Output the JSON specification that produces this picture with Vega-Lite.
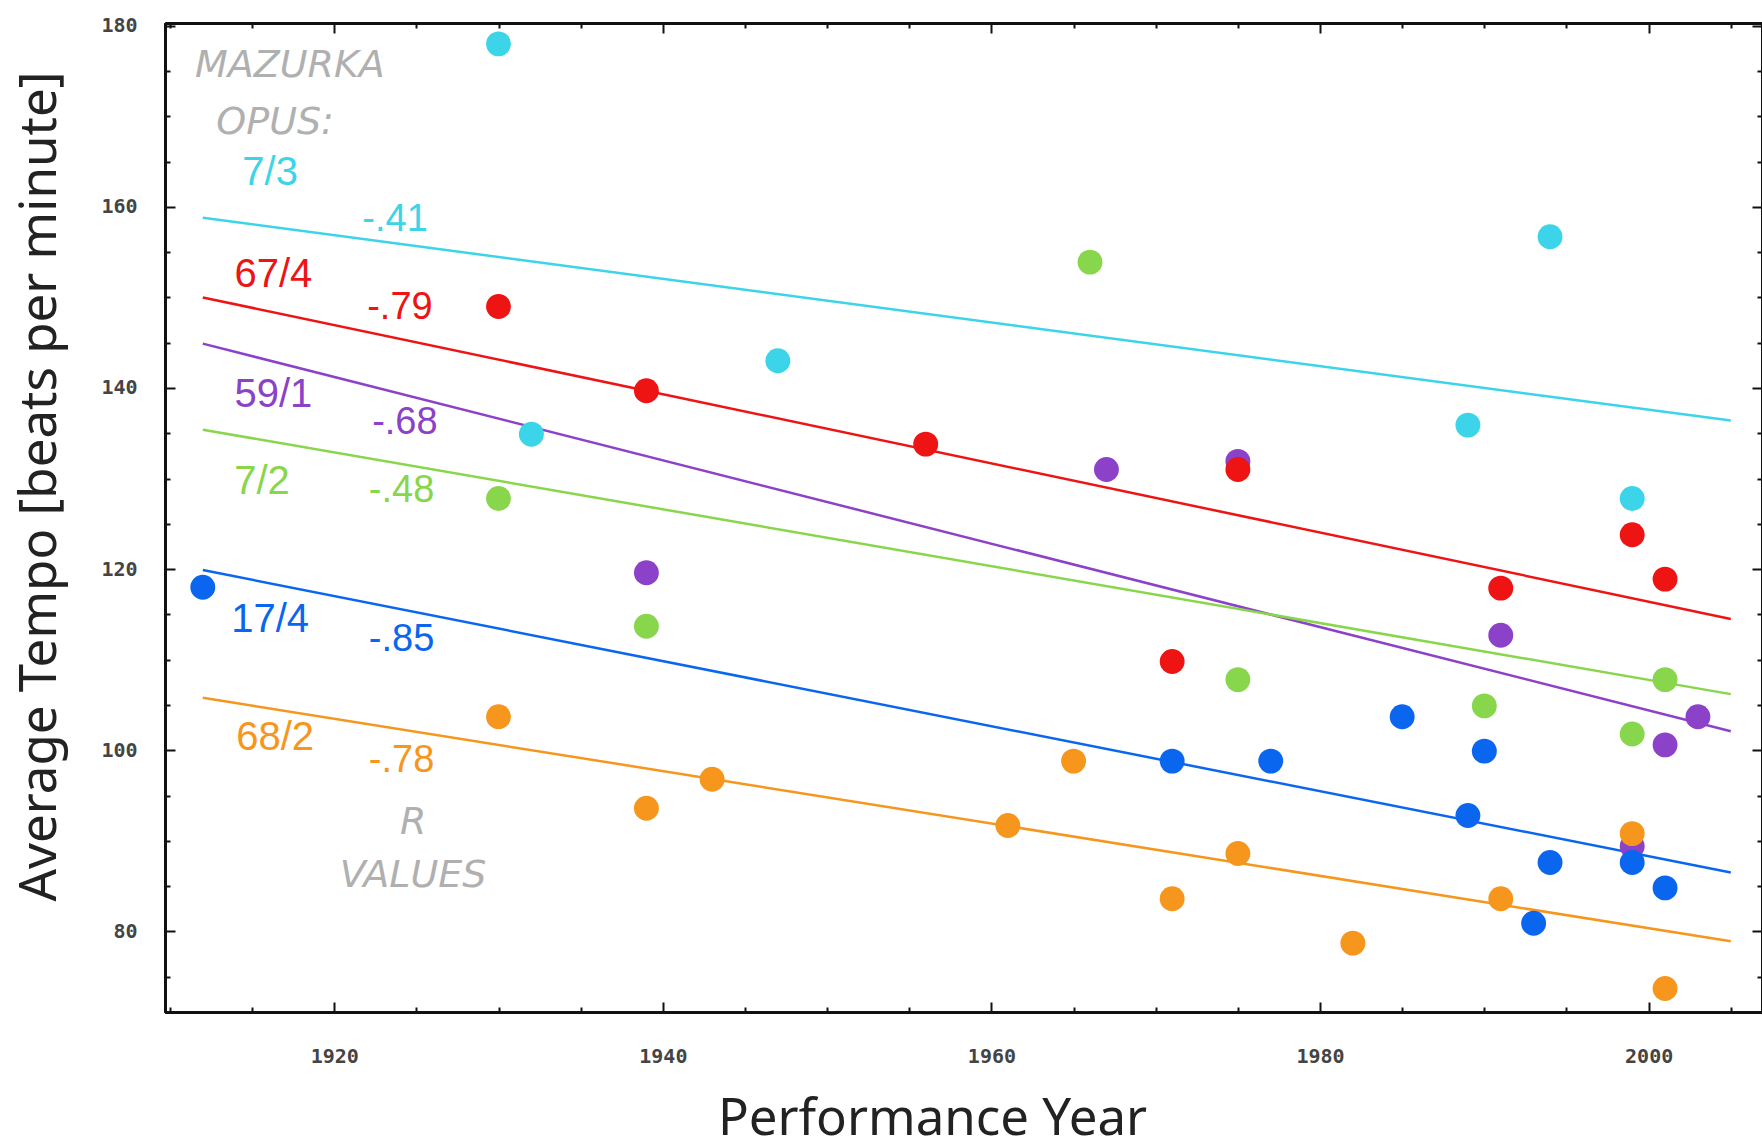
{
  "$schema": "https://vega.github.io/schema/vega-lite/v6.json",
  "width": 1597,
  "height": 989,
  "autosize": "none",
  "padding": {"left": 165, "top": 23, "right": 0, "bottom": 134},
  "background": "white",
  "config": {
    "view": {"stroke": null},
    "axis": {
      "grid": false,
      "domainColor": "#111111",
      "domainWidth": 3,
      "tickColor": "#111111",
      "tickWidth": 2,
      "labelFont": "DejaVu Sans Mono",
      "labelFontWeight": "bold",
      "labelFontSize": 20,
      "labelColor": "#444444",
      "titleFont": "Noto Sans",
      "titleFontWeight": "normal",
      "titleFontSize": 51,
      "titleColor": "#222222"
    }
  },
  "datasets": {
    "points": [
      {"opus": "59/1", "year": 1939, "tempo": 119.6},
      {"opus": "59/1", "year": 1967, "tempo": 131.0},
      {"opus": "59/1", "year": 1975, "tempo": 131.9},
      {"opus": "59/1", "year": 1991, "tempo": 112.7},
      {"opus": "59/1", "year": 1999, "tempo": 89.4},
      {"opus": "59/1", "year": 2001, "tempo": 100.6},
      {"opus": "59/1", "year": 2003, "tempo": 103.7},
      {"opus": "7/3", "year": 1930, "tempo": 178.0},
      {"opus": "7/3", "year": 1932, "tempo": 134.9},
      {"opus": "7/3", "year": 1947, "tempo": 143.0},
      {"opus": "7/3", "year": 1989, "tempo": 135.9},
      {"opus": "7/3", "year": 1994, "tempo": 156.7},
      {"opus": "7/3", "year": 1999, "tempo": 127.8},
      {"opus": "7/2", "year": 1930, "tempo": 127.8},
      {"opus": "7/2", "year": 1939, "tempo": 113.7},
      {"opus": "7/2", "year": 1966, "tempo": 153.9},
      {"opus": "7/2", "year": 1975, "tempo": 107.8},
      {"opus": "7/2", "year": 1990, "tempo": 104.9},
      {"opus": "7/2", "year": 1999, "tempo": 101.8},
      {"opus": "7/2", "year": 2001, "tempo": 107.8},
      {"opus": "17/4", "year": 1912, "tempo": 118.0},
      {"opus": "17/4", "year": 1971, "tempo": 98.8},
      {"opus": "17/4", "year": 1977, "tempo": 98.8},
      {"opus": "17/4", "year": 1985, "tempo": 103.7},
      {"opus": "17/4", "year": 1989, "tempo": 92.8},
      {"opus": "17/4", "year": 1990, "tempo": 99.9},
      {"opus": "17/4", "year": 1993, "tempo": 80.9},
      {"opus": "17/4", "year": 1994, "tempo": 87.6},
      {"opus": "17/4", "year": 1999, "tempo": 87.6},
      {"opus": "17/4", "year": 2001, "tempo": 84.8},
      {"opus": "67/4", "year": 1930, "tempo": 149.0},
      {"opus": "67/4", "year": 1939, "tempo": 139.7},
      {"opus": "67/4", "year": 1956, "tempo": 133.8},
      {"opus": "67/4", "year": 1971, "tempo": 109.8},
      {"opus": "67/4", "year": 1975, "tempo": 131.0},
      {"opus": "67/4", "year": 1991, "tempo": 117.9},
      {"opus": "67/4", "year": 1999, "tempo": 123.8},
      {"opus": "67/4", "year": 2001, "tempo": 118.9},
      {"opus": "68/2", "year": 1930, "tempo": 103.7},
      {"opus": "68/2", "year": 1939, "tempo": 93.6},
      {"opus": "68/2", "year": 1943, "tempo": 96.8},
      {"opus": "68/2", "year": 1961, "tempo": 91.7},
      {"opus": "68/2", "year": 1965, "tempo": 98.8},
      {"opus": "68/2", "year": 1971, "tempo": 83.6},
      {"opus": "68/2", "year": 1975, "tempo": 88.6},
      {"opus": "68/2", "year": 1982, "tempo": 78.7},
      {"opus": "68/2", "year": 1991, "tempo": 83.6},
      {"opus": "68/2", "year": 1999, "tempo": 90.8},
      {"opus": "68/2", "year": 2001, "tempo": 73.7}
    ],
    "fits": [
      {"opus": "7/3", "year": 1912, "tempo": 158.8},
      {"opus": "7/3", "year": 2005, "tempo": 136.4},
      {"opus": "67/4", "year": 1912, "tempo": 150.0},
      {"opus": "67/4", "year": 2005, "tempo": 114.5},
      {"opus": "59/1", "year": 1912, "tempo": 144.9},
      {"opus": "59/1", "year": 2005, "tempo": 102.1},
      {"opus": "7/2", "year": 1912, "tempo": 135.4},
      {"opus": "7/2", "year": 2005, "tempo": 106.2},
      {"opus": "17/4", "year": 1912, "tempo": 119.9},
      {"opus": "17/4", "year": 2005, "tempo": 86.5},
      {"opus": "68/2", "year": 1912, "tempo": 105.8},
      {"opus": "68/2", "year": 2005, "tempo": 78.9}
    ],
    "labels": [
      {"opus": "7/3", "year": 1916.1, "tempo": 163.7},
      {"opus": "67/4", "year": 1916.3, "tempo": 152.5},
      {"opus": "59/1", "year": 1916.3, "tempo": 139.2},
      {"opus": "7/2", "year": 1915.6, "tempo": 129.6},
      {"opus": "17/4", "year": 1916.1, "tempo": 114.4},
      {"opus": "68/2", "year": 1916.4, "tempo": 101.3}
    ],
    "rvalues": [
      {"opus": "7/3", "r": "-.41", "year": 1923.7, "tempo": 158.5},
      {"opus": "67/4", "r": "-.79", "year": 1924.0, "tempo": 148.8},
      {"opus": "59/1", "r": "-.68", "year": 1924.3, "tempo": 136.1},
      {"opus": "7/2", "r": "-.48", "year": 1924.1, "tempo": 128.6},
      {"opus": "17/4", "r": "-.85", "year": 1924.1, "tempo": 112.2},
      {"opus": "68/2", "r": "-.78", "year": 1924.1, "tempo": 98.8}
    ],
    "notes": [
      {"note": "MAZURKA", "year": 1917.3, "tempo": 175.5},
      {"note": "OPUS:", "year": 1916.4, "tempo": 169.3},
      {"note": "R", "year": 1924.8, "tempo": 92.0},
      {"note": "VALUES", "year": 1924.8, "tempo": 86.1}
    ]
  },
  "layer": [
    {
      "data": {"name": "fits"},
      "mark": {"type": "line", "strokeWidth": 2.5},
      "encoding": {
        "x": {
          "field": "year", "type": "quantitative",
          "scale": {"domain": [1909.7, 2006.9], "nice": false, "zero": false},
          "axis": {"orient": "bottom", "values": [1920, 1940, 1960, 1980, 2000], "format": "d", "ticks": false, "domain": true, "labelPadding": 34, "title": "Performance Year", "titlePadding": 28, "titleX": 767}
        },
        "y": {
          "field": "tempo", "type": "quantitative",
          "scale": {"domain": [71.1, 180.3], "nice": false, "zero": false},
          "axis": {"orient": "left", "values": [80, 100, 120, 140, 160, 180], "format": "d", "ticks": false, "domain": true, "labelPadding": 28, "title": "Average Tempo [beats per minute]", "titlePadding": 34, "titleY": 463}
        },
        "color": {
          "field": "opus", "type": "nominal", "legend": null,
          "scale": {"domain": ["7/3", "67/4", "59/1", "7/2", "17/4", "68/2"], "range": ["#3cd4e8", "#ee1414", "#8c42c8", "#88d64c", "#0a66ee", "#f6961c"]}
        },
        "detail": {"field": "opus"}
      }
    },
    {
      "data": {"name": "points"},
      "mark": {"type": "circle", "size": 620, "opacity": 1},
      "encoding": {
        "x": {
          "field": "year", "type": "quantitative",
          "scale": {"domain": [1909.7, 2006.9], "nice": false, "zero": false},
          "axis": {"orient": "bottom", "values": [1920, 1940, 1960, 1980, 2000], "labels": false, "tickSize": -10, "title": null}
        },
        "y": {
          "field": "tempo", "type": "quantitative",
          "scale": {"domain": [71.1, 180.3], "nice": false, "zero": false},
          "axis": {"orient": "left", "values": [80, 100, 120, 140, 160, 180], "labels": false, "tickSize": -10, "title": null}
        },
        "color": {"field": "opus", "type": "nominal", "legend": null}
      }
    },
    {
      "data": {"name": "labels"},
      "mark": {"type": "text", "font": "Liberation Sans", "fontSize": 40, "align": "center", "baseline": "middle"},
      "encoding": {
        "x": {
          "field": "year", "type": "quantitative",
          "scale": {"domain": [1909.7, 2006.9], "nice": false, "zero": false},
          "axis": {"orient": "bottom", "values": [1910, 1915, 1925, 1930, 1935, 1945, 1950, 1955, 1965, 1970, 1975, 1985, 1990, 1995, 2005], "labels": false, "tickSize": -5, "title": null}
        },
        "y": {
          "field": "tempo", "type": "quantitative",
          "scale": {"domain": [71.1, 180.3], "nice": false, "zero": false},
          "axis": {"orient": "left", "values": [75, 85, 90, 95, 105, 110, 115, 125, 130, 135, 145, 150, 155, 165, 170, 175], "labels": false, "tickSize": -5, "title": null}
        },
        "text": {"field": "opus"},
        "color": {"field": "opus", "type": "nominal", "legend": null}
      }
    },
    {
      "data": {"name": "rvalues"},
      "mark": {"type": "text", "font": "Liberation Sans", "fontSize": 38, "align": "center", "baseline": "middle"},
      "encoding": {
        "x": {
          "field": "year", "type": "quantitative",
          "scale": {"domain": [1909.7, 2006.9], "nice": false, "zero": false},
          "axis": {"orient": "top", "values": [1920, 1940, 1960, 1980, 2000], "labels": false, "tickSize": -10, "title": null}
        },
        "y": {
          "field": "tempo", "type": "quantitative",
          "scale": {"domain": [71.1, 180.3], "nice": false, "zero": false},
          "axis": {"orient": "right", "values": [80, 100, 120, 140, 160, 180], "labels": false, "tickSize": -10, "title": null}
        },
        "text": {"field": "r"},
        "color": {"field": "opus", "type": "nominal", "legend": null}
      }
    },
    {
      "data": {"name": "notes"},
      "mark": {"type": "text", "font": "DejaVu Sans", "fontStyle": "italic", "fontSize": 38, "align": "center", "baseline": "middle", "color": "#b0b0b0"},
      "encoding": {
        "x": {
          "field": "year", "type": "quantitative",
          "scale": {"domain": [1909.7, 2006.9], "nice": false, "zero": false},
          "axis": {"orient": "top", "values": [1910, 1915, 1925, 1930, 1935, 1945, 1950, 1955, 1965, 1970, 1975, 1985, 1990, 1995, 2005], "labels": false, "tickSize": -5, "title": null}
        },
        "y": {
          "field": "tempo", "type": "quantitative",
          "scale": {"domain": [71.1, 180.3], "nice": false, "zero": false},
          "axis": {"orient": "right", "values": [75, 85, 90, 95, 105, 110, 115, 125, 130, 135, 145, 150, 155, 165, 170, 175], "labels": false, "tickSize": -5, "title": null}
        },
        "text": {"field": "note"}
      }
    }
  ],
  "resolve": {"axis": {"x": "independent", "y": "independent"}}
}
